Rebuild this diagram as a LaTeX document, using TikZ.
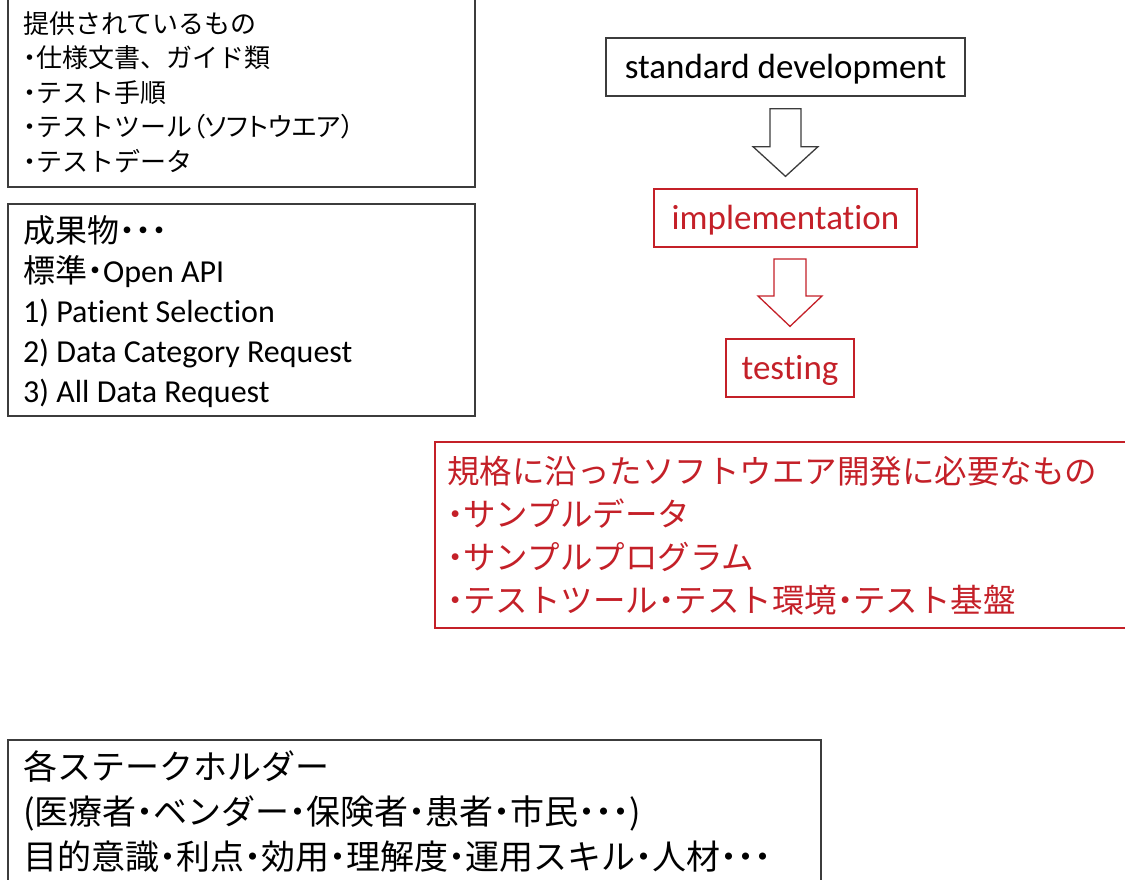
\documentclass[tikz,border=0pt]{standalone}
\usepackage{fontspec}
\usetikzlibrary{calc}
\setmainfont{Carlito}[Ligatures=NoCommon]
\newfontfamily\jp{Noto Sans CJK JP}
\newfontfamily\jpp{Noto Sans CJK JP}[RawFeature=+palt]
\newcommand\mybul{{\jp\bfseries ･}}
\definecolor{myred}{RGB}{196,32,40}
\definecolor{mygray}{RGB}{60,60,60}
\tikzset{
  blackbox/.style={draw=mygray, line width=1.3pt},
  redbox/.style={draw=myred, line width=1.3pt},
  flowbox/.style={rectangle, line width=1.3pt, inner sep=0pt, minimum height=58pt, text height=24pt, text depth=2pt, font=\fontsize{35}{40}\selectfont},
  txt/.style={anchor=north west, inner sep=0pt, align=left},
  blockarrow/.style={line width=1.3pt, fill=white}
}
\begin{document}
\begin{tikzpicture}[x=1pt, y=-1pt]
\useasboundingbox (0,0) rectangle (1125,879);
% left boxes
\draw[blackbox] (8,-5) rectangle (475,187);
\node[txt, font=\jp\fontsize{26}{34.5}\selectfont] (t1) at (23,11) {提供されているもの\\\mybul 仕様文書、ガイド類\\\mybul テスト手順\\\mybul テストツール{\jpp （ソフトウエア）}\\\mybul テストデータ};
\draw[blackbox] (8,204) rectangle (475,416);
\node[txt, font=\fontsize{32}{40}\selectfont] (t2) at (23,215) {{\jp 成果物\mybul\mybul\mybul}\\{\jp 標準\mybul}Open API\\1) Patient Selection\\2) Data Category Request\\3) All Data Request};
% flow
\node[flowbox, draw=mygray, minimum width=359pt] (sd) at (785.5,67) {standard development};
\node[flowbox, draw=myred, text=myred, minimum width=263pt] (impl) at (785.5,218) {implementation};
\node[flowbox, draw=myred, text=myred, minimum width=128pt] (test) at (790,368) {testing};
\coordinate (a1) at ([yshift=-12pt]sd.south);
\draw[blockarrow, draw=mygray] (a1) ++(-15.5,0) -- ++(0,38) -- ++(-17,0) -- ([yshift=12pt]impl.north) -- ($(a1)+(32.5,38)$) -- ++(-17,0) -- ++(0,-38) -- cycle;
\coordinate (a2) at (790,259);
\draw[blockarrow, draw=myred] (a2) ++(-16,0) -- ++(0,37) -- ++(-16,0) -- ([yshift=12pt]test.north) -- ($(a2)+(32,37)$) -- ++(-16,0) -- ++(0,-37) -- cycle;
% red box
\draw[redbox] (435,442) rectangle (1135,628);
\node[txt, text=myred, font=\jp\fontsize{32.5}{43}\selectfont] (t3) at (447,456) {規格に沿ったソフトウエア開発に必要なもの\\\mybul サンプルデータ\\\mybul サンプルプログラム\\\mybul テストツール\mybul テスト環境\mybul テスト基盤};
% bottom box
\draw[blackbox] (8,740) rectangle (821,895);
\node[txt, font=\jp\fontsize{34}{45}\selectfont] (t4) at (23,750) {各ステークホルダー\\(医療者\mybul ベンダー\mybul 保険者\mybul 患者\mybul 市民\mybul\mybul\mybul )\\目的意識\mybul 利点\mybul 効用\mybul 理解度\mybul 運用スキル\mybul 人材\mybul\mybul\mybul};
\end{tikzpicture}
\end{document}
